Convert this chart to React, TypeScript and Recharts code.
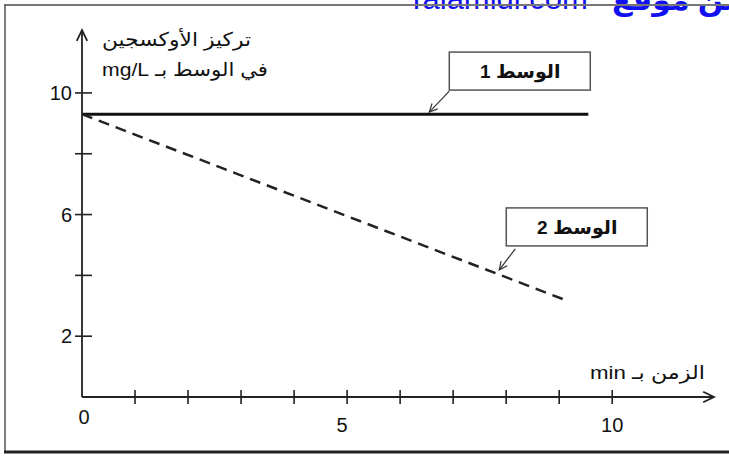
import { LineChart, Line, XAxis, YAxis, ReferenceDot, Label } from "recharts";

// time in min, oxygen in mg/L
const medium1Time = [0, 9.55];
const medium1Oxygen = [9.3, 9.3];
const medium2Time = [0, 9.1];
const medium2Oxygen = [9.3, 3.2];

const xTicks = [0, 1, 2, 3, 4, 5, 6, 7, 8, 9, 10];
const xTickLabels = [0, 5, 10];
const yTicks = [2, 4, 6, 8, 10];
const yTickLabels = [2, 6, 10];

const X_MAX = 11.92;
const Y_MAX = 12.07;

const medium1 = medium1Time.map((t, i) => ({ t, v: medium1Oxygen[i] }));
const medium2 = medium2Time.map((t, i) => ({ t, v: medium2Oxygen[i] }));

const FONT = "'Liberation Sans', Arial, 'DejaVu Sans', sans-serif";

function XTick(props: any) {
  const { x, y, payload } = props;
  const v = payload.value;
  return (
    <g>
      {v !== 0 && <line x1={x} x2={x} y1={y - 7} y2={y + 7} stroke="#222" strokeWidth={1.6} />}
      {xTickLabels.includes(v) && (
        <text
          x={v === 0 ? x + 2 : v === 5 ? x - 5 : x}
          y={v === 0 ? y + 27 : y + 35}
          textAnchor="middle"
          fontSize={20}
          fontFamily={FONT}
          fill="#111"
        >
          {v}
        </text>
      )}
    </g>
  );
}

function YTick(props: any) {
  const { x, y, payload } = props;
  const v = payload.value;
  return (
    <g>
      <line x1={x - 7} x2={x + 10} y1={y} y2={y} stroke="#222" strokeWidth={1.6} />
      {yTickLabels.includes(v) && (
        <text x={x - 10} y={y + 7} textAnchor="end" fontSize={20} fontFamily={FONT} fill="#111">
          {v}
        </text>
      )}
    </g>
  );
}

function arrowHead(x: number, y: number, dx: number, dy: number, size = 9) {
  const len = Math.hypot(dx, dy);
  const ux = dx / len;
  const uy = dy / len;
  const a = Math.PI / 7;
  const p1x = x - size * (ux * Math.cos(a) - uy * Math.sin(a));
  const p1y = y - size * (uy * Math.cos(a) + ux * Math.sin(a));
  const p2x = x - size * (ux * Math.cos(a) + uy * Math.sin(a));
  const p2y = y - size * (uy * Math.cos(a) - ux * Math.sin(a));
  return `M${p1x},${p1y} L${x},${y} L${p2x},${p2y}`;
}

function AxisArrowRight(props: any) {
  const { cx, cy } = props;
  return <path d={arrowHead(cx, cy, 1, 0, 12)} fill="none" stroke="#222" strokeWidth={1.8} />;
}

function AxisArrowUp(props: any) {
  const { cx, cy } = props;
  return <path d={arrowHead(cx, cy, 0, -1, 12)} fill="none" stroke="#222" strokeWidth={1.8} />;
}

function makeCallout(text: string, bx: number, by: number, sx: number, sy: number) {
  return function Callout(props: any) {
    const { cx, cy } = props;
    const x0 = cx + sx;
    const y0 = cy + sy;
    return (
      <g>
        <rect x={cx + bx} y={cy + by} width={141} height={38} fill="#fff" stroke="#555" strokeWidth={1.5} />
        <text
          x={cx + bx + 71}
          y={cy + by + 26}
          textAnchor="middle"
          direction="rtl"
          fontSize={19}
          fontWeight="bold"
          fontFamily={FONT}
          fill="#111"
        >
          {text}
        </text>
        <line x1={x0} y1={y0} x2={cx} y2={cy} stroke="#333" strokeWidth={1.2} />
        <path d={arrowHead(cx, cy, cx - x0, cy - y0, 9)} fill="none" stroke="#333" strokeWidth={1.2} />
      </g>
    );
  };
}

const Callout1 = makeCallout("الوسط 1", 20, -60, 20, -21);
const Callout2 = makeCallout("الوسط 2", 7, -62, 16, -21);

function YTitle(props: any) {
  const { viewBox } = props;
  const x = viewBox.x + viewBox.width + 20;
  return (
    <g fontFamily={FONT} fontSize={19} fill="#111">
      <text x={x} y={viewBox.y + 16} textAnchor="end" direction="rtl" textLength={149} lengthAdjust="spacingAndGlyphs">
        تركيز الأوكسجين
      </text>
      <text x={x} y={viewBox.y + 46} textAnchor="end" direction="rtl" textLength={166} lengthAdjust="spacingAndGlyphs">
        في الوسط بـ mg/L
      </text>
    </g>
  );
}

function XTitle(props: any) {
  const { viewBox } = props;
  return (
    <text
      x={viewBox.x + viewBox.width - 9}
      y={viewBox.y - 18}
      textAnchor="start"
      direction="rtl"
      fontFamily={FONT}
      fontSize={19}
      fill="#111"
      textLength={115}
      lengthAdjust="spacingAndGlyphs"
    >
      الزمن بـ min
    </text>
  );
}

export default function App() {
  return (
    <div style={{ position: "absolute", left: 0, top: 0, width: 729, height: 457, background: "#fff", overflow: "hidden" }}>
      <LineChart width={729} height={457} margin={{ top: 30, right: 15, left: 0, bottom: 0 }}>
        <XAxis
          type="number"
          dataKey="t"
          domain={[0, X_MAX]}
          ticks={xTicks}
          tick={<XTick />}
          tickLine={false}
          tickSize={0}
          tickMargin={0}
          height={60}
          axisLine={{ stroke: "#222", strokeWidth: 1.8 }}
          allowDataOverflow
        >
          <Label content={<XTitle />} />
        </XAxis>
        <YAxis
          type="number"
          dataKey="v"
          domain={[0, Y_MAX]}
          ticks={yTicks}
          tick={<YTick />}
          tickLine={false}
          tickSize={0}
          tickMargin={0}
          width={82}
          axisLine={{ stroke: "#222", strokeWidth: 1.8 }}
          allowDataOverflow
        >
          <Label content={<YTitle />} />
        </YAxis>
        <Line
          data={medium1}
          dataKey="v"
          type="linear"
          stroke="#111"
          strokeWidth={3}
          dot={false}
          isAnimationActive={false}
        />
        <Line
          data={medium2}
          dataKey="v"
          type="linear"
          stroke="#222"
          strokeWidth={2.5}
          strokeDasharray="11 7"
          dot={false}
          isAnimationActive={false}
        />
        <ReferenceDot x={X_MAX} y={0} r={0} shape={<AxisArrowRight />} ifOverflow="visible" />
        <ReferenceDot x={0} y={Y_MAX} r={0} shape={<AxisArrowUp />} ifOverflow="visible" />
        <ReferenceDot x={6.55} y={9.37} r={0} shape={<Callout1 />} ifOverflow="visible" />
        <ReferenceDot x={7.87} y={4.18} r={0} shape={<Callout2 />} ifOverflow="visible" />
      </LineChart>
      <svg
        width={729}
        height={457}
        style={{ position: "absolute", left: 0, top: 0, pointerEvents: "none" }}
      >
        <text x={407} y={9} fontFamily={FONT} fontSize={31} fill="#1010f0">
          Talamidi.com
        </text>
        <text x={612} y={10} fontFamily={FONT} fontSize={30} fontWeight="bold" fill="#1010f0">
          من موقع
        </text>
        <line x1={4} y1={5} x2={729} y2={5} stroke="#777" strokeWidth={2} />
        <line x1={5} y1={5} x2={5} y2={452} stroke="#555" strokeWidth={1.5} />
        <line x1={4} y1={452} x2={729} y2={452} stroke="#222" strokeWidth={3} />
      </svg>
    </div>
  );
}
